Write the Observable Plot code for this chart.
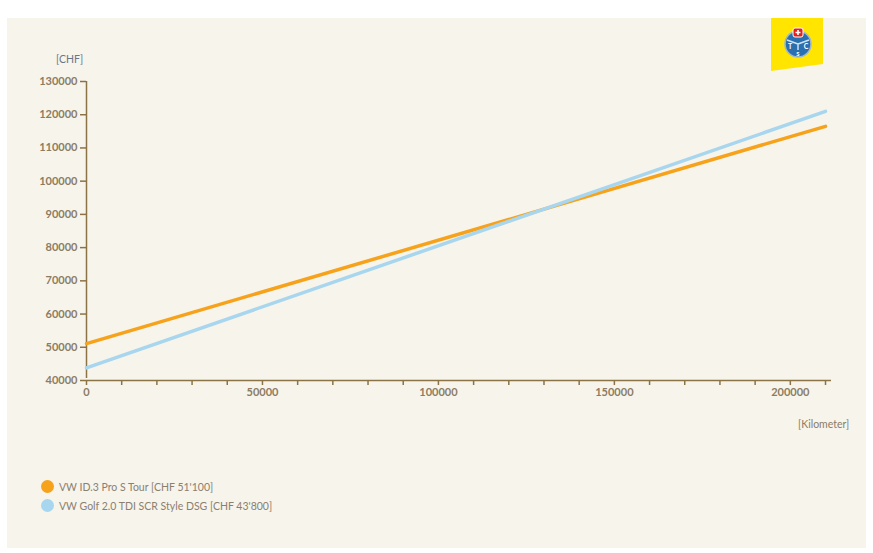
<!DOCTYPE html>
<html><head><meta charset="utf-8">
<script src="https://cdn.jsdelivr.net/npm/d3@7"></script>
<script src="https://cdn.jsdelivr.net/npm/@observablehq/plot@0.6"></script>
<style>
body{margin:0;background:#fff;width:873px;height:553px;position:relative;overflow:hidden;font-family:Lato,"Open Sans",sans-serif}
#panel{position:absolute;left:7px;top:18px;width:859px;height:530px;background:#f7f4ec}
#chart{position:absolute;left:0;top:0}
#logo{position:absolute;left:0;top:0}
.lbl{position:absolute;font-size:10.5px;white-space:nowrap}
#ylab{left:56px;top:53px;color:#6d7686}
#xlab{left:798px;top:418px;color:#8a7c66}
.leg{position:absolute;left:41px;font-size:10.5px;color:#8a8070;white-space:nowrap;display:flex;align-items:center}
.leg span.dot{display:inline-block;width:13px;height:13px;border-radius:50%;margin-right:5px}
</style></head>
<body>
<div id="panel"></div>
<div id="chart"></div>
<svg id="logo" width="873" height="100">
  <polygon points="771,18 823,18 823,64 771,71" fill="#ffe500"/>
  <circle cx="798" cy="44" r="13" fill="#2a6fb0" stroke="#9fb8cc" stroke-width="1.5"/>
  <path d="M798,44 L787,40 M798,44 L809,40 M798,44 L798,50" stroke="#cfe0ee" stroke-width="1.5"/>
  <text x="790" y="49" font-size="7" fill="#fff" font-weight="bold" text-anchor="middle">T</text>
  <text x="806" y="49" font-size="7" fill="#fff" font-weight="bold" text-anchor="middle">C</text>
  <text x="798" y="56" font-size="6" fill="#fff" font-weight="bold" text-anchor="middle">S</text>
  <rect x="793" y="28" width="10" height="9" rx="2" fill="#e32119" stroke="#fff" stroke-width="1"/>
  <path d="M798,30 v5 M795.5,32.5 h5" stroke="#fff" stroke-width="1.6"/>
</svg>
<div class="lbl" id="ylab">[CHF]</div>
<div class="lbl" id="xlab">[Kilometer]</div>
<div class="leg" style="top:480px"><span class="dot" style="background:#f7a21b"></span><span id="n0"></span></div>
<div class="leg" style="top:499px"><span class="dot" style="background:#a8d6ee"></span><span id="n1"></span></div>
<script>
const kilometers = [0, 210000];
const id3Costs = [51100, 116500];
const golfCosts = [43800, 121000];
const seriesNames = ["VW ID.3 Pro S Tour [CHF 51'100]", "VW Golf 2.0 TDI SCR Style DSG [CHF 43'800]"];
const seriesColors = ["#f7a21b", "#a8d6ee"];
const yTicks = [40000, 50000, 60000, 70000, 80000, 90000, 100000, 110000, 120000, 130000];
const xTicksMajor = [0, 50000, 100000, 150000, 200000];
const xTicksMinor = [0, 10000, 20000, 30000, 40000, 50000, 60000, 70000, 80000, 90000, 100000, 110000, 120000, 130000, 140000, 150000, 160000, 170000, 180000, 190000, 200000, 210000];

document.getElementById("n0").textContent = seriesNames[0];
document.getElementById("n1").textContent = seriesNames[1];

const rows = [];
kilometers.forEach((k, i) => {
  rows.push({km: k, cost: id3Costs[i], s: seriesNames[0]});
  rows.push({km: k, cost: golfCosts[i], s: seriesNames[1]});
});
const axisColor = "#8b7346";
const textColor = "#8c7c62";

const plot = Plot.plot({
  width: 873,
  height: 420,
  marginLeft: 86,
  marginRight: 42,
  marginTop: 81,
  marginBottom: 40,
  style: {background: "transparent", fontFamily: "Lato, 'Open Sans', sans-serif", fontSize: "11px", fontWeight: "bold"},
  x: {domain: [0, 211700]},
  y: {domain: [40000, 130000]},
  color: {domain: seriesNames, range: seriesColors},
  marks: [
    Plot.axisX({ticks: xTicksMinor, tickSize: 5, tickFormat: () => "", stroke: axisColor, strokeWidth: 1.5, label: null}),
    Plot.axisX({ticks: xTicksMajor, tickSize: 0, tickPadding: 8, tickFormat: d => String(d), fill: textColor, label: null}),
    Plot.axisY({ticks: yTicks, tickSize: 6, tickPadding: 3, tickFormat: d => String(d), stroke: axisColor, strokeWidth: 1.5, fill: textColor, label: null}),
    Plot.ruleY([40000], {x1: 0, x2: 211700, stroke: axisColor, strokeWidth: 1.5}),
    Plot.ruleX([0], {y1: 40000, y2: 130000, insetTop: -2, stroke: axisColor, strokeWidth: 1.5}),
    Plot.line(rows, {x: "km", y: "cost", z: "s", stroke: "s", strokeWidth: 3.5})
  ]
});
document.getElementById("chart").appendChild(plot);
</script>
</body></html>
